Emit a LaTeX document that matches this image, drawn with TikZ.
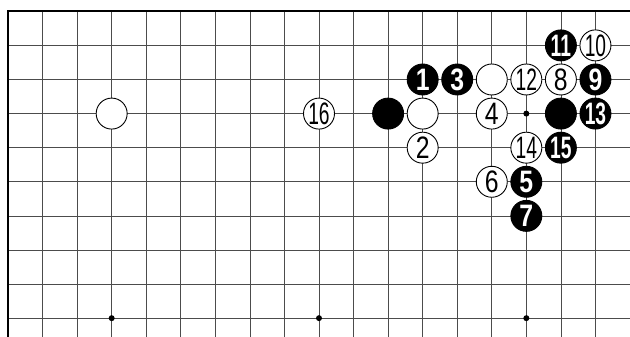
\documentclass[tikz,border=0pt]{standalone}
\usepackage{fontspec}
\setmainfont{Liberation Sans}
\usepackage{graphicx}
\begin{document}
\begin{tikzpicture}[x=34.56pt,y=-34.1pt,
  grid/.style={black!70,line width=0.6pt},
  edge/.style={black,line width=2.4pt},
  stone/.style={circle,minimum size=31pt,inner sep=0pt,line width=0.9pt},
  wstone/.style={stone,draw=black,fill=white,text=black,font=\fontsize{31}{31}\selectfont},
  bstone/.style={stone,draw=black,fill=black,text=white,font=\fontsize{31}{31}\selectfont\bfseries},
  star/.style={circle,fill=black,minimum size=6pt,inner sep=0pt}]
\useasboundingbox (-0.2315,-0.3314) rectangle (18.0,9.551);
\fill[white] (-0.2315,-0.3314) rectangle (18.0,9.551);
\foreach \i in {1,...,17} \draw[grid] (\i,0) -- (\i,9.6);
\foreach \j in {1,...,9} \draw[grid] (0,\j) -- (18.1,\j);
\draw[edge] (0,9.6) -- (0,0) -- (18.1,0);
% star points
\node[star] (p1) at (3,9) {};
\node[star] (p2) at (9,9) {};
\node[star] (p3) at (15,9) {};
\node[star] (p4) at (15,3) {};
% stones
\newcommand\one[1]{\scalebox{0.8}[1]{#1}}
\newcommand\two[1]{\scalebox{0.62}[1]{#1}}
\node[wstone] (w0) at (3,3) {};
\node[wstone] (w16) at (9,3) {\two{16}};
\node[bstone] (b0) at (11,3) {};
\node[wstone] (w1) at (12,3) {};
\node[wstone] (w2) at (12,4) {\one{2}};
\node[bstone] (b1) at (12,2) {\one{1}};
\node[bstone] (b3) at (13,2) {\one{3}};
\node[wstone] (wa) at (14,2) {};
\node[wstone] (w12) at (15,2) {\two{12}};
\node[wstone] (w8) at (16,2) {\one{8}};
\node[bstone] (b9) at (17,2) {\one{9}};
\node[bstone] (b11) at (16,1) {\two{11}};
\node[wstone] (w10) at (17,1) {\two{10}};
\node[wstone] (w4) at (14,3) {\one{4}};
\node[bstone] (bb) at (16,3) {};
\node[bstone] (b13) at (17,3) {\two{13}};
\node[wstone] (w14) at (15,4) {\two{14}};
\node[bstone] (b15) at (16,4) {\two{15}};
\node[wstone] (w6) at (14,5) {\one{6}};
\node[bstone] (b5) at (15,5) {\one{5}};
\node[bstone] (b7) at (15,6) {\one{7}};
\end{tikzpicture}
\end{document}
